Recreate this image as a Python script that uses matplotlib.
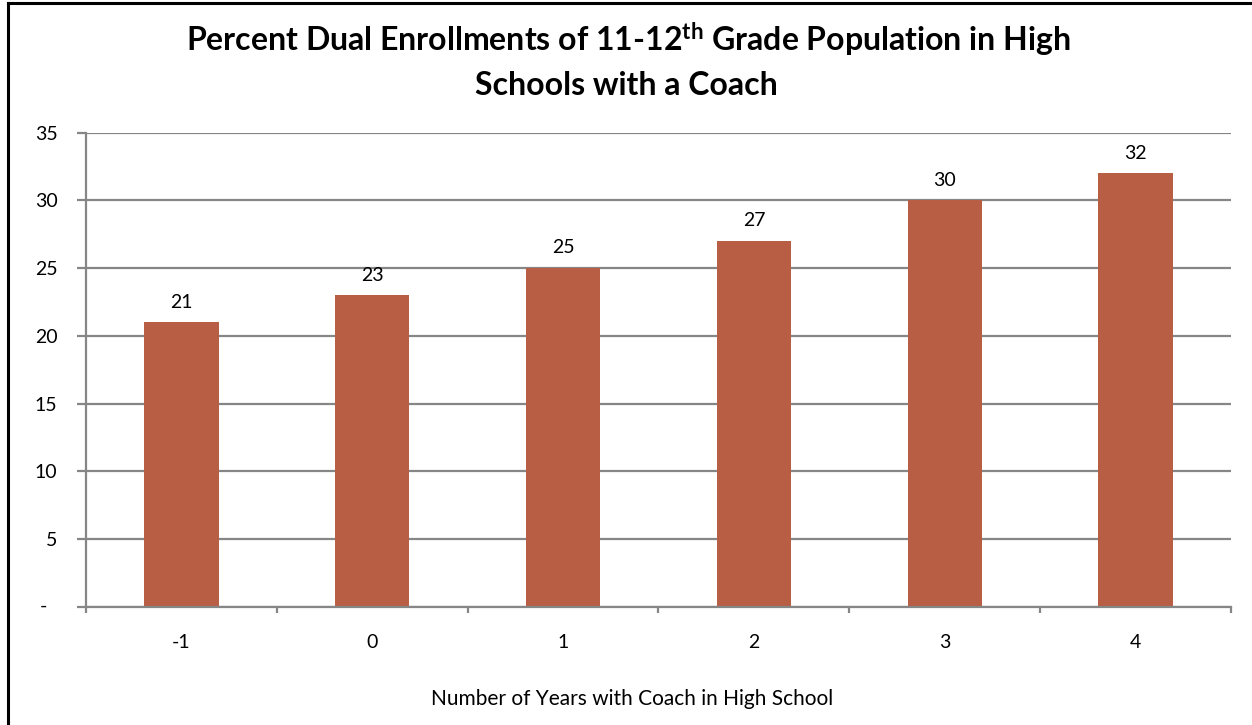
import numpy as np
import matplotlib
matplotlib.use("Agg")
import matplotlib.pyplot as plt
from matplotlib.lines import Line2D
from matplotlib.transforms import blended_transform_factory

# Chart data
years = ["-1", "0", "1", "2", "3", "4"]
percent = [21, 23, 25, 27, 30, 32]
y_ticks = [0, 5, 10, 15, 20, 25, 30, 35]
y_tick_labels = ["", "5", "10", "15", "20", "25", "30", "35"]

title_line1 = "Percent Dual Enrollments of 11-12$^{\\mathrm{th}}$ Grade Population in High"
title_line2 = "Schools with a Coach"
x_label = "Number of Years with Coach in High School"

plt.rcParams["font.family"] = ["Lato", "DejaVu Sans"]
plt.rcParams["mathtext.fontset"] = "custom"
plt.rcParams["mathtext.rm"] = "Lato:bold"
plt.rcParams["mathtext.bf"] = "Lato:bold"
plt.rcParams["mathtext.it"] = "Lato:bold"

W, H = 1252, 725
BAR = "#B85E45"
GRID = "#868686"
FS = 14

fig = plt.figure(figsize=(W / 100, H / 100), dpi=100)
fig.patch.set_facecolor("white")

left_px, right_px, top_px, bottom_px = 86, 1231, 132.7, 606.7
ax = fig.add_axes([left_px / W, 1 - bottom_px / H,
                   (right_px - left_px) / W, (bottom_px - top_px) / H])

x = np.arange(len(years))
ax.bar(x, percent, width=0.39, color=BAR, zorder=3)

ax.set_xlim(-0.5, len(years) - 0.5)
ax.set_ylim(0, 35)

# y axis: ticks, labels and horizontal gridlines
ax.set_yticks(y_ticks)
ax.set_yticklabels(y_tick_labels)
ax.yaxis.grid(True, color=GRID, linewidth=1.6, zorder=0)
ax.set_axisbelow(True)
ax.tick_params(axis="y", length=6.5, width=1.6, color=GRID, pad=14,
               labelsize=FS, labelcolor="black")
ytrans = blended_transform_factory(ax.transAxes, ax.transData)
ax.text(-(left_px - 43.5) / (right_px - left_px), 0, "-", transform=ytrans,
        ha="center", va="center", fontsize=FS)

# x axis: tick marks between categories, labels at category centres
ax.set_xticks(np.arange(-0.5, len(years), 1.0))
ax.set_xticklabels([])
ax.tick_params(axis="x", which="major", length=4.5, width=1.6, color=GRID)
ax.set_xticks(x, minor=True)
ax.set_xticklabels(years, minor=True)
ax.tick_params(axis="x", which="minor", length=0, pad=20, labelsize=FS)

for side in ("top", "right"):
    ax.spines[side].set_visible(False)
for side in ("left", "bottom"):
    ax.spines[side].set_color(GRID)
    ax.spines[side].set_linewidth(1.6)
    ax.spines[side].set_zorder(4)

# value labels above the bars
for xi, v in zip(x, percent):
    ax.annotate(f"{v}", (xi, v), xytext=(0, 14.5), textcoords="offset points",
                ha="center", va="center", fontsize=FS)

# titles
fig.text(628.5 / W, 1 - 52 / H, title_line1, ha="center", va="baseline",
         fontsize=23, fontweight="bold")
fig.text(626 / W, 1 - 95 / H, title_line2, ha="center", va="baseline",
         fontsize=23, fontweight="bold")
fig.text(632 / W, 1 - 705 / H, x_label, ha="center", va="baseline",
         fontsize=15)

# chart frame
fig.add_artist(Line2D([8 / W, 8 / W], [0, 1 - 3 / H], transform=fig.transFigure,
                      color="black", linewidth=2.2))
fig.add_artist(Line2D([8 / W, 1], [1 - 3 / H, 1 - 3 / H], transform=fig.transFigure,
                      color="black", linewidth=2.2))

fig.savefig("out.png", dpi=100)
